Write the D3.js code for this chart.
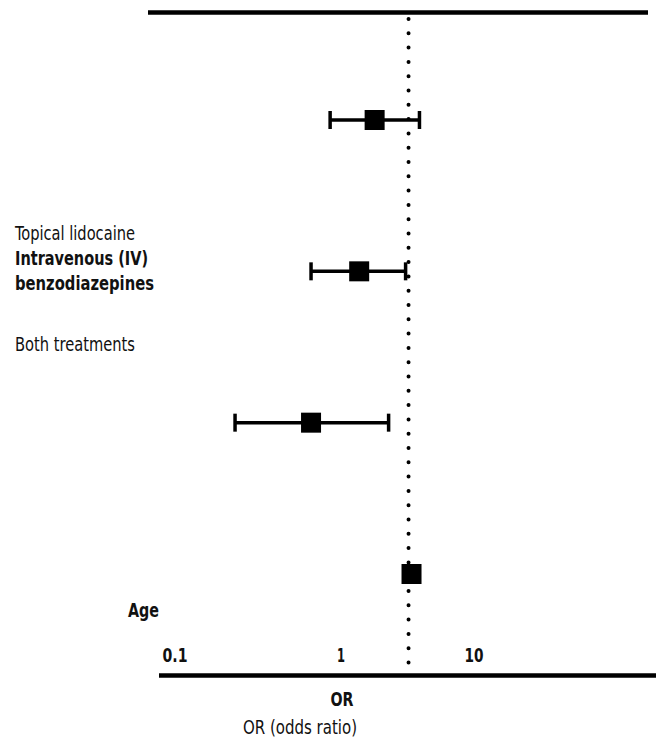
<!DOCTYPE html>
<html>
<head>
<meta charset="utf-8">
<script src="https://cdn.jsdelivr.net/npm/d3@7"></script>
<style>
  body { margin: 0; background: #fff; }
  text { font-family: "DejaVu Sans Condensed", "Liberation Sans Narrow", "Roboto", sans-serif; fill: #111; }
</style>
</head>
<body>
<div id="chart"></div>
<script>
// rows of the forest plot, top to bottom
var rows = ["r1", "r2", "r3", "r4"];
var estimates = [1.79, 1.37, 0.66, 3.39];
var lower = [0.86, 0.66, 0.23, 3.39];
var upper = [3.89, 3.06, 2.28, 3.39];
var refValue = 3.22;
var tickValues = [0.1, 1, 10];
var tickLabels = ["0.1", "1", "10"];

var width = 656, height = 738;

var svg = d3.select("#chart")
  .append("svg")
  .attr("width", width)
  .attr("height", height);

/* Scales */
var x = d3.scaleLog()
  .domain([0.1, 1, 10])
  .range([175, 341, 474]);

var y = d3.scalePoint()
  .domain(rows)
  .range([120, 574]);

/* frame lines */
svg.append("line")
  .attr("x1", 148).attr("x2", 648)
  .attr("y1", 12.5).attr("y2", 12.5)
  .attr("stroke", "#000").attr("stroke-width", 4.5);

svg.append("line")
  .attr("x1", 159).attr("x2", 656)
  .attr("y1", 675.5).attr("y2", 675.5)
  .attr("stroke", "#000").attr("stroke-width", 4.5);

// dotted reference line
svg.append("line")
  .attr("x1", x(refValue)).attr("x2", x(refValue))
  .attr("y1", 19).attr("y2", 674)
  .attr("stroke", "#000")
  .attr("stroke-width", 4)
  .attr("stroke-linecap", "round")
  .attr("stroke-dasharray", "0 14.3");

/* confidence intervals */
var g = svg.append("g");
rows.forEach(function(r, i) {
  if (upper[i] > lower[i]) {
    g.append("line")
      .attr("x1", x(lower[i])).attr("x2", x(upper[i]))
      .attr("y1", y(r)).attr("y2", y(r))
      .attr("stroke", "#000").attr("stroke-width", 3.5);
    [lower[i], upper[i]].forEach(function(v) {
      g.append("line")
        .attr("x1", x(v)).attr("x2", x(v))
        .attr("y1", y(r) - 9).attr("y2", y(r) + 9)
        .attr("stroke", "#000").attr("stroke-width", 3.5);
    });
  }
  g.append("rect")
    .attr("x", x(estimates[i]) - 10)
    .attr("y", y(r) - 10)
    .attr("width", 20)
    .attr("height", 20)
    .attr("fill", "#000");
});

/* tick labels */
var tickWidths = [25, 8, 19];
svg.selectAll(".tick-label")
  .data(tickValues)
  .enter()
  .append("text")
  .attr("class", "tick-label")
  .attr("x", d => x(d))
  .attr("y", 662)
  .attr("text-anchor", "middle")
  .attr("font-size", 20)
  .attr("font-weight", "bold")
  .attr("textLength", (d, i) => tickWidths[i])
  .attr("lengthAdjust", "spacingAndGlyphs")
  .text((d, i) => tickLabels[i]);

svg.append("text")
  .attr("x", 342).attr("y", 706)
  .attr("text-anchor", "middle")
  .attr("font-size", 20).attr("font-weight", "bold")
  .attr("textLength", 23).attr("lengthAdjust", "spacingAndGlyphs")
  .text("OR");

svg.append("text")
  .attr("x", 300).attr("y", 734)
  .attr("text-anchor", "middle")
  .attr("font-size", 20)
  .attr("textLength", 114).attr("lengthAdjust", "spacingAndGlyphs")
  .text("OR (odds ratio)");

/* left labels */
var labels = [
  { t: "Topical lidocaine", x: 15, y: 240, w: 120, b: false },
  { t: "Intravenous (IV)", x: 15, y: 265, w: 133, b: true },
  { t: "benzodiazepines", x: 15, y: 290, w: 139, b: true },
  { t: "Both treatments", x: 15, y: 351, w: 120, b: false },
  { t: "Age", x: 128, y: 617, w: 31, b: true }
];
svg.selectAll(".row-label")
  .data(labels)
  .enter()
  .append("text")
  .attr("class", "row-label")
  .attr("x", d => d.x)
  .attr("y", d => d.y)
  .attr("font-size", 20)
  .attr("font-weight", d => d.b ? "bold" : "normal")
  .attr("textLength", d => d.w)
  .attr("lengthAdjust", "spacingAndGlyphs")
  .text(d => d.t);
</script>
</body>
</html>
